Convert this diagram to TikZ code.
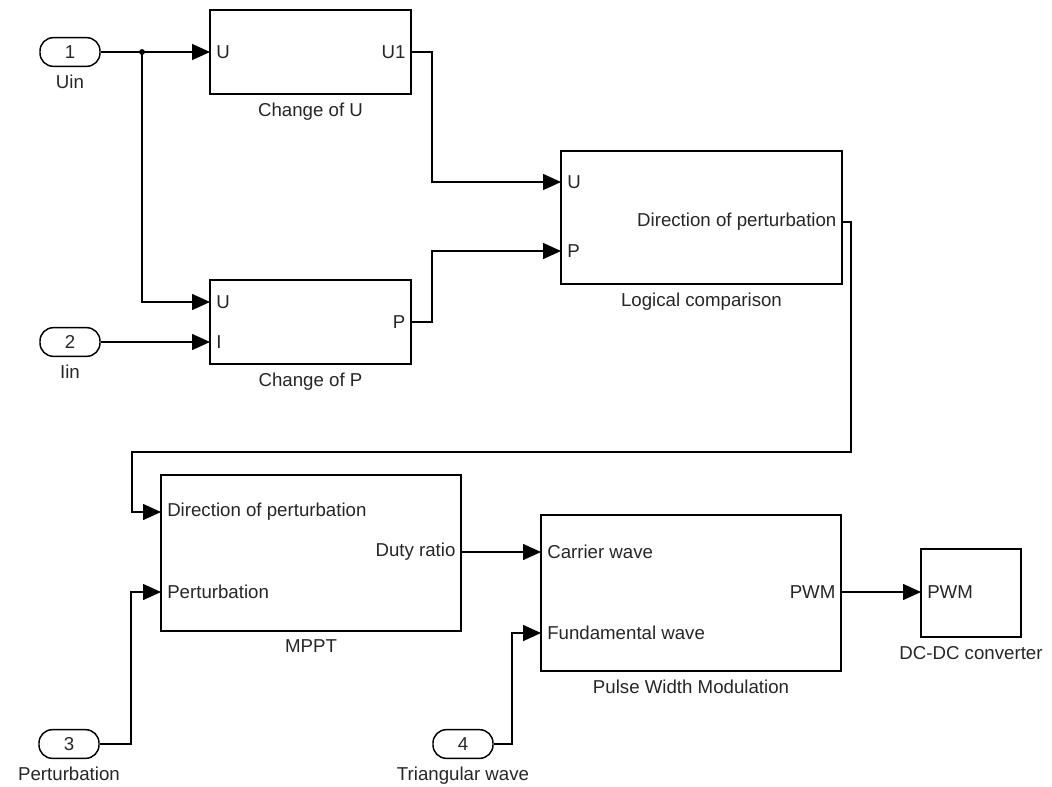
\documentclass[tikz,border=0pt]{standalone}
\usepackage{fontspec}
\setmainfont{Liberation Sans}
\usetikzlibrary{arrows.meta,positioning}

\tikzset{
  blk/.style 2 args={draw,line width=1.5pt,minimum width=#1*0.75pt,minimum height=#2*0.75pt,inner sep=0pt},
  inport/.style={draw,line width=1.1pt,rounded corners=10pt,minimum width=45pt,minimum height=21.5pt,inner sep=0pt},
  lbl/.style={label distance=2.5pt,text=black!85},
  port/.style={inner sep=0pt,text=black!85},
  wire/.style={line width=1.1pt},
}

\begin{document}
\begin{tikzpicture}[x=0.75pt,y=-0.75pt,>={Triangle[length=13.5pt,width=12pt]},
  every node/.style={font=\fontsize{14}{16}\selectfont}]
  \useasboundingbox (0,0) rectangle (1052,786);
  % inports
  \node[inport,text=black!85,label={[lbl]below:Uin}] (in1) at (70,52) {1};
  \node[inport,text=black!85,label={[lbl]below:Iin}] (in2) at (70,342) {2};
  \node[inport,text=black!85,label={[lbl]below:Perturbation}] (in3) at (69,744) {3};
  \node[inport,text=black!85,label={[lbl]below:Triangular wave}] (in4) at (463,744) {4};
  % blocks
  \node[blk={201}{84},label={[lbl]below:Change of U}] (cu) at (310.5,52) {};
  \node[blk={201}{84},label={[lbl]below:Change of P}] (cp) at (310.5,322) {};
  \node[blk={281}{133},label={[lbl]below:Logical comparison}] (lc) at (701.5,217.5) {};
  \node[blk={300}{156},label={[lbl]below:MPPT}] (mppt) at (311,553) {};
  \node[blk={300}{156},label={[lbl]below:Pulse Width Modulation}] (pwm) at (691,593) {};
  \node[blk={100}{88},label={[lbl]below:DC-DC converter}] (dc) at (971,593) {};
  % ports
  \coordinate (cuU) at (210,52);
  \coordinate (cuY) at (411,52);
  \coordinate (cpU) at (210,302);
  \coordinate (cpI) at (210,342);
  \coordinate (cpY) at (411,322);
  \coordinate (lcU) at (561,182);
  \coordinate (lcP) at (561,251);
  \coordinate (lcY) at (842,222);
  \coordinate (mD) at (161,512);
  \coordinate (mP) at (161,592);
  \coordinate (mY) at (461,552);
  \coordinate (pwC) at (541,552);
  \coordinate (pwF) at (541,633);
  \coordinate (pwY) at (841,592);
  \coordinate (dcI) at (921,592);
  \node[port,anchor=west] at ([xshift=4.5pt]cuU) {U};
  \node[port,anchor=east] at ([xshift=-4pt]cuY) {U1};
  \node[port,anchor=west] at ([xshift=4.5pt]cpU) {U};
  \node[port,anchor=west] at ([xshift=4.5pt]cpI) {I};
  \node[port,anchor=east] at ([xshift=-4pt]cpY) {P};
  \node[port,anchor=west] at ([xshift=4.5pt]lcU) {U};
  \node[port,anchor=west] at ([xshift=4.5pt]lcP) {P};
  \node[port,anchor=east] at ([xshift=-4pt]lcY) {Direction of perturbation};
  \node[port,anchor=west] at ([xshift=4.5pt]mD) {Direction of perturbation};
  \node[port,anchor=west] at ([xshift=4.5pt]mP) {Perturbation};
  \node[port,anchor=east] at ([xshift=-4pt]mY) {Duty ratio};
  \node[port,anchor=west] at ([xshift=4.5pt]pwC) {Carrier wave};
  \node[port,anchor=west] at ([xshift=4.5pt]pwF) {Fundamental wave};
  \node[port,anchor=east] at ([xshift=-4pt]pwY) {PWM};
  \node[port,anchor=west] at ([xshift=4.5pt]dcI) {PWM};
  % wires
  \coordinate (j1) at (142,52);
  \fill (j1) circle (2.2pt);
  \draw[wire,->] (in1) -- (cuU);
  \draw[wire,->] (j1) |- (cpU);
  \draw[wire,->] (in2) -- (cpI);
  \draw[wire,->] (cuY) -- (432,52) |- (lcU);
  \draw[wire,->] (cpY) -- (432,322) |- (lcP);
  \draw[wire,->] (lcY) -- (851,222) -- (851,452) -- (132,452) |- (mD);
  \draw[wire,->] (in3) -| (131,700) |- (mP);
  \draw[wire,->] (mY) -- (pwC);
  \draw[wire,->] (in4) -| (512,700) |- (pwF);
  \draw[wire,->] (pwY) -- (dcI);
\end{tikzpicture}
\end{document}
